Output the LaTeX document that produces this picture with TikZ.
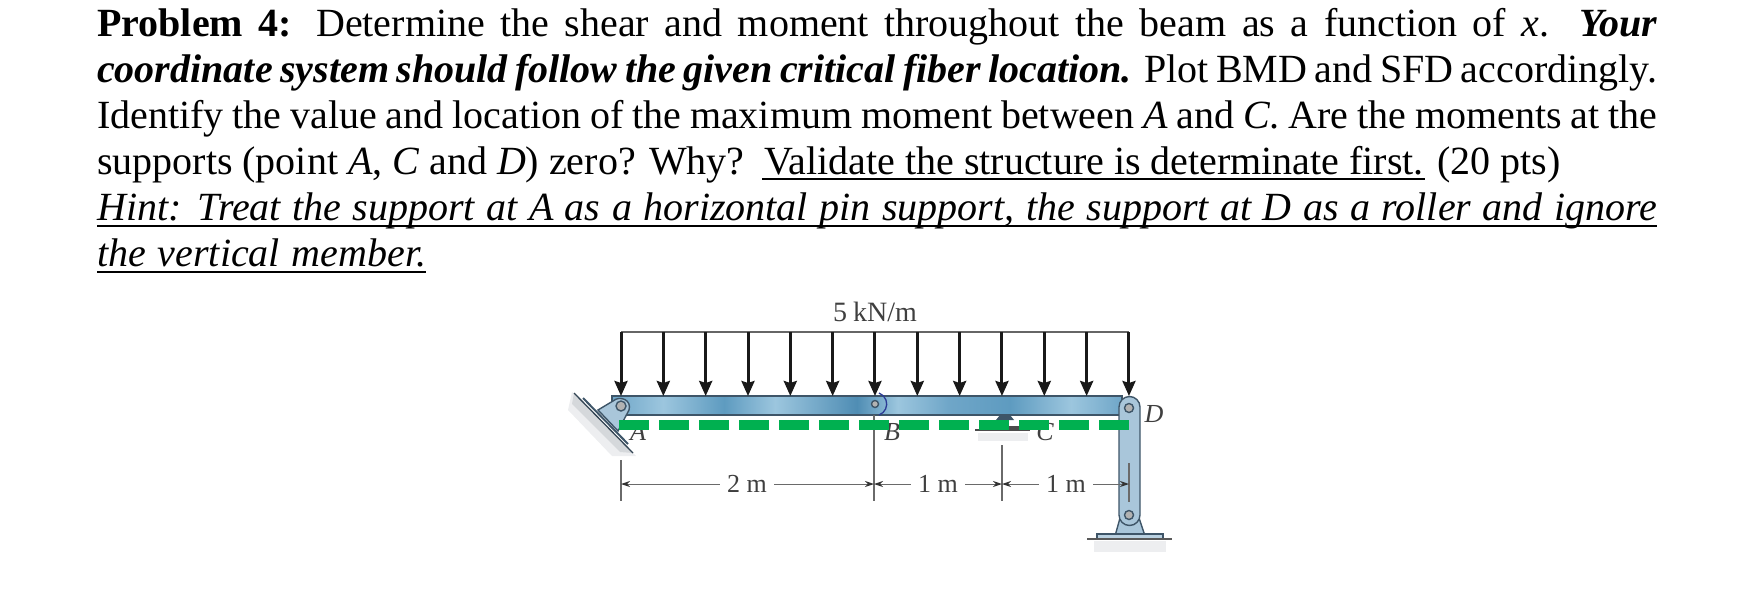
\documentclass[tikz,border=0pt]{standalone}
\usepackage{fontspec}
\setmainfont{Liberation Serif}
\usetikzlibrary{arrows.meta}
\definecolor{inkgray}{HTML}{3F3F3F}
\definecolor{steelline}{HTML}{3E5568}
\definecolor{steelfill}{HTML}{A9C6DA}
\definecolor{greenline}{HTML}{00B050}
\definecolor{dimline}{HTML}{6A6A6A}
\definecolor{shadeA}{HTML}{D5D8DB}
\definecolor{shadeB}{HTML}{EDEEF0}
\definecolor{bmA}{HTML}{6FA6C8}
\definecolor{bmB}{HTML}{9CC6DE}
\definecolor{bmC}{HTML}{5E9BC0}
\definecolor{bmD}{HTML}{4F8DB4}
\pgfdeclarehorizontalshading{beamshade}{100bp}{
 color(0bp)=(bmA);
 color(25bp)=(bmA);
 color(30bp)=(bmB);
 color(36bp)=(bmC);
 color(41bp)=(bmB);
 color(49bp)=(bmD);
 color(53bp)=(bmB);
 color(58bp)=(bmA);
 color(64bp)=(bmC);
 color(70bp)=(bmB);
 color(75bp)=(bmA);
 color(100bp)=(bmA)}
\newcommand{\paperfont}{\fontsize{40}{46}\selectfont}
\newcommand{\figfont}{\fontsize{26}{30}\selectfont}
\tikzset{
 textline/.style={anchor=base west,inner sep=0pt,font=\paperfont,text=black},
 figlabel/.style={inner sep=0pt,font=\figfont\itshape,text=inkgray},
 dimlabel/.style={inner xsep=7pt,inner ysep=0pt,font=\figfont,text=inkgray},
 loadarrow/.style={line width=3pt,color=black!90,-{Stealth[length=15pt,width=13pt,inset=2pt]}},
 dimarrow/.style={line width=1pt,color=dimline,{Stealth[length=9pt,width=6pt,color=black!80]}-},
 tickline/.style={line width=1.3pt,color=dimline},
 steel/.style={draw=steelline,line width=1.4pt,fill=steelfill},
 pinring/.style={draw=steelline,line width=1.4pt,fill=gray!60},
 ruleline/.style={line width=2pt,color=black},
}
\begin{document}
\begin{tikzpicture}[x=1pt,y=-1pt]
\useasboundingbox (0,0) rectangle (1755,592);
% --- problem statement
\node[textline] (t1) at (97,36) {\makebox[1560pt][s]{\textbf{Problem 4:} Determine the shear and moment throughout the beam as a function of \textit{x}. \textbf{\textit{Your}}}};
\node[textline] (t2) at (97,82) {\makebox[1560pt][s]{\textbf{\textit{coordinate system should follow the given critical fiber location.}} Plot BMD and SFD accordingly.}};
\node[textline] (t3) at (97,128) {\makebox[1560pt][s]{Identify the value and location of the maximum moment between \textit{A} and \textit{C}. Are the moments at the}};
\node[textline] (t4) at (97,174) {\makebox[1463pt][s]{supports (point \textit{A}, \textit{C} and \textit{D}) zero? Why?\ \ Validate the structure is determinate first. (20 pts)}};
\node[textline] (t5) at (97,220) {\makebox[1560pt][s]{\textit{Hint: Treat the support at A as a horizontal pin support, the support at D as a roller and ignore}}};
\node[textline] (t6) at (97,266) {\makebox[329pt][s]{\textit{the vertical member.}}};
\coordinate (u4a) at (762,179); \coordinate (u4b) at (1425,179);
\coordinate (u5a) at (97,226); \coordinate (u5b) at (1657,226);
\coordinate (u6a) at (97,272); \coordinate (u6b) at (426,272);
\draw[ruleline] (u4a) -- (u4b);
\draw[ruleline] (u5a) -- (u5b);
\draw[ruleline] (u6a) -- (u6b);
% --- support A
\fill[shadeB] (572,392) -- (636,456) -- (612,456) -- (568,410) -- cycle;
\fill[shadeA] (574,393) -- (633,453) -- (620,452) -- (572,404) -- cycle;
\draw[line width=1.3pt,color=steelline!80!black] (574,393) -- (633,453);
\draw[line width=2pt,color=steelline] (583,398) -- (628,444);
% --- support C
\fill[shadeB] (978,433) rectangle (1028,441);
\draw[line width=1.4pt,color=black!70] (975,430) -- (1030,430);
\fill[black!70] (1003,429) rectangle (1020,426);
\fill[steelline] (996,420) -- (1000,415) -- (1010,415) -- (1014,420) -- cycle;
% --- beam
\draw[draw=steelline,line width=1.6pt,shading=beamshade] (612,396) rectangle (1122,415);
\draw[draw=steelline,line width=1.6pt] (612,396) rectangle (1122,415);
\draw[steelline!70!blue,line width=1.3pt] (879,415) arc[start angle=70,end angle=-70,radius=11.7];
% --- bracket at A
\draw[steel] (598,410) -- (613,401) .. controls (620,395) and (632,400) .. (629,410) -- (618,431) -- cycle;
% --- column and base at D
\fill[shadeB] (1094,541) rectangle (1166,552);
\draw[steel] (1115,536) -- (1120,518) -- (1139,518) -- (1145,536) -- cycle;
\draw[line width=1.4pt,draw=steelline,fill=steelfill!80] (1097,534) rectangle (1163,539);
\draw[line width=1.4pt,color=black!65] (1087,539) -- (1172,539);
\draw[steel] (1119,407) arc[start angle=180,end angle=360,radius=10.5] -- (1140,515) arc[start angle=0,end angle=180,radius=10.5] -- cycle;
% --- pins
\node[circle,minimum size=10pt,inner sep=0pt,pinring] (pinA) at (621,406) {};
\node[circle,minimum size=7pt,inner sep=0pt,pinring] (pinB) at (875,404) {};
\node[circle,minimum size=9pt,inner sep=0pt,pinring] (pinD) at (1129,408) {};
\node[circle,minimum size=9pt,inner sep=0pt,pinring] (pinE) at (1129,515) {};
% --- distributed load
\coordinate (loadL) at (621,332);
\coordinate (loadR) at (1129,332);
\draw[line width=1.3pt,color=black!60] (loadL) -- (loadR);
\foreach \i in {0,...,12}{
  \coordinate (top\i) at ({621+42.33*\i},332);
  \coordinate (tip\i) at ({621+42.33*\i},396);
  \draw[loadarrow] (top\i) -- (tip\i);
}
\node[inner sep=0pt,anchor=base,font=\fontsize{28}{30}\selectfont,text=inkgray] (load) at (875,321) {5\kern6pt kN/m};
% --- labels
\node[figlabel,anchor=base] (la) at (638,440) {A};
\node[figlabel,anchor=base] (lb) at (892,440) {B};
\node[figlabel,anchor=base] (lc) at (1045,440) {C};
\node[figlabel,anchor=base] (ld) at (1154,422) {D};
% --- dimensions
\coordinate (aT) at (621,460); \coordinate (aB) at (621,501);
\coordinate (bT) at (874,415); \coordinate (bB) at (874,501);
\coordinate (cT) at (1002,445); \coordinate (cB) at (1002,501);
\coordinate (dT) at (1129,463); \coordinate (dB) at (1129,502);
\draw[tickline] (aT) -- (aB);
\draw[tickline] (bT) -- (bB);
\draw[tickline] (cT) -- (cB);
\draw[tickline] (dT) -- (dB);
\coordinate (aM) at (621,484); \coordinate (bM) at (874,484);
\coordinate (cM) at (1002,484); \coordinate (dM) at (1129,484);
\node[dimlabel] (d1) at (747,484) {2 m};
\node[dimlabel] (d2) at (938,484) {1 m};
\node[dimlabel] (d3) at (1066,484) {1 m};
\draw[dimarrow] (aM) -- (d1);
\draw[dimarrow] (bM) -- (d1);
\draw[dimarrow] (bM) -- (d2);
\draw[dimarrow] (cM) -- (d2);
\draw[dimarrow] (cM) -- (d3);
\draw[dimarrow] (dM) -- (d3);
% --- critical fibre
\coordinate (fibL) at (619,425);
\coordinate (fibR) at (1130,425);
\draw[color=greenline,line width=10pt,dash pattern=on 30pt off 10pt] (fibL) -- (fibR);
\end{tikzpicture}
\end{document}
